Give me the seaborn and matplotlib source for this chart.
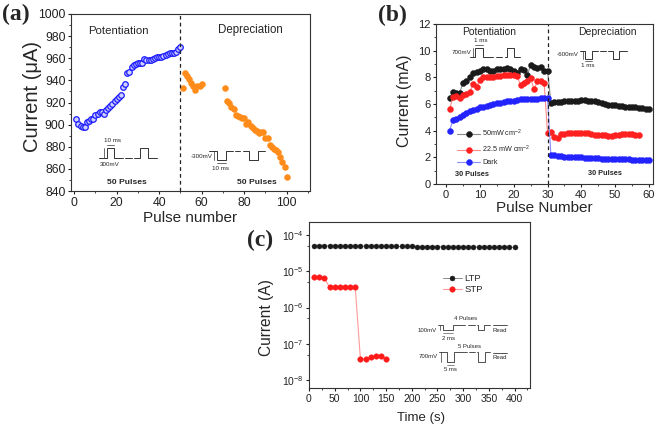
import matplotlib
matplotlib.use("Agg")
import matplotlib.pyplot as plt
import matplotlib.transforms as mtransforms
import seaborn as sns
from matplotlib.ticker import MultipleLocator, LogLocator, NullFormatter

# ---------- panel (a): current vs pulse number
pulse_pot = list(range(1, 51))
current_pot = [905, 901, 899, 898, 898, 902, 903, 905, 905, 909,
               910, 911, 911, 910, 913, 915, 917, 919, 921, 923,
               925, 927, 934, 937, 947, 948, 952, 954, 955, 956,
               956, 956, 959, 958, 958, 958, 959, 960, 961, 961,
               961, 962, 963, 964, 965, 965, 965, 966, 968, 970]
pulse_dep = list(range(51, 61)) + list(range(71, 101))
current_dep = [933, 947, 944, 941, 938, 935, 931, 935, 935, 937,
               933, 921, 920, 916, 914, 909, 908, 907, 906, 906,
               901, 902, 899, 897, 895, 894, 892, 893, 893, 888,
               888, 882, 880, 878, 877, 875, 871, 866, 862, 853]

# ---------- panel (b): three illumination conditions
pulse_b = list(range(1, 61))
i_50mw = [6.45, 6.9, 6.8, 6.85, 7.6, 7.7, 8.0, 8.35, 8.4, 8.5,
          8.65, 8.6, 8.5, 8.45, 8.6, 8.65, 8.65, 8.7, 8.6, 8.45,
          8.3, 8.65, 8.55, 8.2, 8.9, 8.8, 8.7, 8.75, 8.45, 8.5,
          6.1, 6.15, 6.15, 6.15, 6.2, 6.2, 6.2, 6.25, 6.25, 6.3,
          6.3, 6.25, 6.25, 6.2, 6.15, 6.05, 6.0, 5.95, 5.9, 5.9,
          5.85, 5.85, 5.8, 5.8, 5.75, 5.75, 5.7, 5.7, 5.65, 5.6]
i_22mw = [5.6, 6.5, 6.6, 6.45, 6.65, 6.75, 6.9, 7.5, 7.3, 7.8,
          8.0, 8.05, 8.0, 8.05, 8.1, 8.1, 8.15, 8.2, 8.2, 8.2,
          8.1, 7.4, 7.6, 7.7, 7.95, 7.1, 7.7, 7.75, 7.55, 3.8,
          3.9, 3.5, 3.45, 3.75, 3.75, 3.8, 3.85, 3.85, 3.8, 3.8,
          3.85, 3.85, 3.75, 3.7, 3.7, 3.7, 3.65, 3.6, 3.6, 3.65,
          3.7, 3.75, 3.75, 3.75, 3.75, 3.7, 3.65]
i_dark = [4.0, 4.8, 4.9, 5.05, 5.2, 5.3, 5.45, 5.55, 5.65, 5.75,
          5.8, 5.85, 5.95, 6.0, 6.05, 6.1, 6.15, 6.2, 6.25, 6.25,
          6.3, 6.35, 6.35, 6.35, 6.35, 6.4, 6.4, 6.45, 6.45, 6.45,
          2.15, 2.15, 2.1, 2.1, 2.05, 2.05, 2.0, 2.0, 2.0, 2.0,
          1.95, 1.95, 1.95, 1.95, 1.92, 1.9, 1.9, 1.9, 1.88, 1.88,
          1.85, 1.85, 1.85, 1.85, 1.82, 1.82, 1.8, 1.8, 1.8, 1.8]

# ---------- panel (c): retention
time_ltp = list(range(10, 410, 10))
i_ltp = [5.1e-5, 5.1e-5, 5.1e-5, 5.05e-5, 5.05e-5, 5.0e-5, 5.0e-5, 5.0e-5,
         5.0e-5, 4.95e-5, 4.95e-5, 4.95e-5, 4.9e-5, 4.9e-5, 4.9e-5, 4.9e-5,
         4.85e-5, 4.85e-5, 4.85e-5, 4.85e-5, 4.8e-5, 4.8e-5, 4.8e-5, 4.8e-5,
         4.8e-5, 4.75e-5, 4.75e-5, 4.75e-5, 4.75e-5, 4.7e-5, 4.7e-5, 4.7e-5,
         4.7e-5, 4.7e-5, 4.65e-5, 4.65e-5, 4.65e-5, 4.65e-5, 4.6e-5, 4.6e-5]
time_stp = list(range(10, 160, 10))
i_stp = [7.0e-6, 6.9e-6, 6.5e-6, 3.6e-6, 3.6e-6, 3.6e-6, 3.6e-6, 3.6e-6,
         3.6e-6, 3.8e-8, 3.8e-8, 4.4e-8, 4.7e-8, 4.7e-8, 3.8e-8]

sns.set_style("ticks")
plt.rcParams['font.family'] = ['Liberation Sans', 'DejaVu Sans']
plt.rcParams['mathtext.fontset'] = 'custom'
plt.rcParams['mathtext.rm'] = 'Liberation Sans'
plt.rcParams['mathtext.it'] = 'Liberation Sans:italic'
plt.rcParams['axes.edgecolor'] = '#333333'
plt.rcParams['axes.linewidth'] = 0.8
plt.rcParams['xtick.direction'] = 'out'
plt.rcParams['ytick.direction'] = 'out'

W, H = 656, 428
fig = plt.figure(figsize=(6.56, 4.28), dpi=100)

# axes boxes in pixels: left, top, right, bottom
box_a = (71, 14, 310, 191)
box_b = (436, 24, 653, 184)
box_c = (309, 222, 530, 388)


def make_axes(box):
    L, T, R, B = box
    return fig.add_axes([L / W, 1 - B / H, (R - L) / W, (B - T) / H])


def fr(box, x, y):
    L, T, R, B = box
    return (x - L) / (R - L), (B - y) / (B - T)


def draw_path(ax, box, pts, lw=0.7):
    xs, ys = zip(*[fr(box, x, y) for x, y in pts])
    ax.plot(xs, ys, color='#333333', lw=lw, transform=ax.transAxes, clip_on=False)


def put(ax, box, x, y, s, size=5, **kw):
    fx, fy = fr(box, x, y)
    ax.text(fx, fy, s, fontsize=size, transform=ax.transAxes,
            ha=kw.pop('ha', 'center'), va=kw.pop('va', 'center'), **kw)


def style_ticks(ax, size):
    ax.tick_params(which='major', length=2.5, width=0.8, pad=1.5,
                   labelsize=size, colors='#222222')
    ax.tick_params(which='minor', length=1.5, width=0.6)
    ax.tick_params(top=False, right=False)


def labels(ax, box, xlab, xpos, xsize, ylab, ypos, ysize):
    ax.set_xlabel(xlab, fontsize=xsize, va='center')
    ax.xaxis.set_label_coords(*fr(box, *xpos))
    ax.set_ylabel(ylab, fontsize=ysize, va='center')
    ax.yaxis.set_label_coords(*fr(box, *ypos))


def gloss(ax, x, y, size=1.5):
    # small highlight to mimic the shaded sphere markers
    off = mtransforms.offset_copy(ax.transData, fig=fig, x=-0.6, y=0.6, units='points')
    sns.scatterplot(x=x, y=y, ax=ax, s=size, color='white', alpha=0.75,
                    linewidth=0, transform=off, legend=False)


# ================= (a)
ax_a = make_axes(box_a)
sns.scatterplot(x=pulse_pot, y=current_pot, ax=ax_a, marker='o', s=16,
                facecolor='#d0d0ff', edgecolor='#1a1aff', linewidth=0.9)
sns.scatterplot(x=pulse_dep, y=current_dep, ax=ax_a, marker='o', s=22,
                color='#ff8c1a', edgecolor='#ff8c1a', linewidth=0)
ax_a.axvline(50, color='#222222', ls=(0, (3, 2.5)), lw=0.9)
ax_a.set_xlim(-1.5, 111)
ax_a.set_ylim(840, 1000)
ax_a.xaxis.set_major_locator(MultipleLocator(20))
ax_a.xaxis.set_minor_locator(MultipleLocator(10))
ax_a.yaxis.set_major_locator(MultipleLocator(20))
ax_a.yaxis.set_minor_locator(MultipleLocator(10))
style_ticks(ax_a, 8.8)
labels(ax_a, box_a, 'Pulse number', (190.5, 218), 11, 'Current (μA)', (32, 97), 14.5)

put(ax_a, box_a, 118, 31, 'Potentiation', size=8.2)
put(ax_a, box_a, 250, 30, 'Depreciation', size=8.3)
put(ax_a, box_a, 127, 182, '50 Pulses', size=6.1, fontweight='bold')
put(ax_a, box_a, 257, 182, '50 Pulses', size=6.1, fontweight='bold')
# positive pulse train
draw_path(ax_a, box_a, [(99, 158), (107, 158), (107, 148), (114, 148), (114, 158), (123, 158)])
draw_path(ax_a, box_a, [(125, 158), (132, 158)])
draw_path(ax_a, box_a, [(134, 158), (140, 158), (140, 148), (148, 148), (148, 158), (157, 158)])
draw_path(ax_a, box_a, [(103.5, 158), (103.5, 148)], lw=0.5)
draw_path(ax_a, box_a, [(107, 144.5), (114, 144.5)], lw=0.5)
put(ax_a, box_a, 112, 140.5, '10 ms', size=4.5)
put(ax_a, box_a, 110, 165, '300mV', size=4.5)
# negative pulse train
draw_path(ax_a, box_a, [(209, 151), (217, 151), (217, 160), (226, 160), (226, 151), (233, 151)])
draw_path(ax_a, box_a, [(235, 151), (240, 151)])
draw_path(ax_a, box_a, [(243, 151), (249, 151), (249, 160), (258, 160), (258, 151), (265, 151)])
draw_path(ax_a, box_a, [(214, 151), (214, 160)], lw=0.5)
draw_path(ax_a, box_a, [(217, 162.5), (226, 162.5)], lw=0.5)
put(ax_a, box_a, 213, 156, '-300mV', size=4.5, ha='right')
put(ax_a, box_a, 221, 169, '10 ms', size=4.5)

# ================= (b)
ax_b = make_axes(box_b)
series_b = [(i_50mw, '#1a1a1a', '#8a8a8a', '50mW cm$^{-2}$'),
            (i_22mw, '#ff2020', '#ff8a8a', '22.5 mW cm$^{-2}$'),
            (i_dark, '#2323ff', '#8c8cff', 'Dark')]
for vals, mcol, lcol, lab in series_b:
    sns.lineplot(x=pulse_b[:len(vals)], y=vals, ax=ax_b, color=lcol, lw=0.8,
                 marker='o', markersize=4.3, markerfacecolor=mcol,
                 markeredgecolor=mcol, markeredgewidth=0.3, label=lab)
    gloss(ax_b, pulse_b[:len(vals)], vals)
ax_b.axvline(30, color='#222222', ls=(0, (3, 2.5)), lw=0.9)
ax_b.set_xlim(-3, 61.2)
ax_b.set_ylim(0, 12)
ax_b.xaxis.set_major_locator(MultipleLocator(10))
ax_b.xaxis.set_minor_locator(MultipleLocator(5))
ax_b.yaxis.set_major_locator(MultipleLocator(2))
ax_b.yaxis.set_minor_locator(MultipleLocator(1))
style_ticks(ax_b, 8)
labels(ax_b, box_b, 'Pulse Number', (544.5, 208), 11, 'Current (mA)', (405, 101), 11.5)
ax_b.legend(loc='upper left', bbox_to_anchor=fr(box_b, 457, 128), frameon=False,
            fontsize=5.2, handlelength=3.2, handletextpad=0.3, labelspacing=0.6,
            borderaxespad=0, borderpad=0)

put(ax_b, box_b, 489, 32, 'Potentiation', size=7.4)
put(ax_b, box_b, 607, 32, 'Depreciation', size=7.5)
put(ax_b, box_b, 472, 174, '30 Pulses', size=5.3, fontweight='bold')
put(ax_b, box_b, 605, 173, '30 Pulses', size=5.3, fontweight='bold')
draw_path(ax_b, box_b, [(470, 57), (475, 57), (475, 47.5), (483, 47.5), (483, 57), (493, 57)])
draw_path(ax_b, box_b, [(496, 57), (502, 57)])
draw_path(ax_b, box_b, [(505, 57), (507, 57), (507, 47.5), (514, 47.5), (514, 57), (520, 57)])
draw_path(ax_b, box_b, [(473, 57), (473, 47.5)], lw=0.5)
draw_path(ax_b, box_b, [(475, 45), (483, 45)], lw=0.5)
put(ax_b, box_b, 481, 41, '1 ms', size=4.5)
put(ax_b, box_b, 471, 53, '700mV', size=4.5, ha='right')
draw_path(ax_b, box_b, [(580, 51), (585, 51), (585, 58.5), (592, 58.5), (592, 51), (598, 51)])
draw_path(ax_b, box_b, [(600, 51), (606, 51)])
draw_path(ax_b, box_b, [(608, 51), (613, 51), (613, 58.5), (619, 58.5), (619, 51), (627, 51)])
draw_path(ax_b, box_b, [(582.5, 51), (582.5, 58.5)], lw=0.5)
draw_path(ax_b, box_b, [(585, 61), (592, 61)], lw=0.5)
put(ax_b, box_b, 588, 65.5, '1 ms', size=4.5)
put(ax_b, box_b, 579, 55, '-600mV', size=4.5, ha='right')

# ================= (c)
ax_c = make_axes(box_c)
sns.lineplot(x=time_ltp, y=i_ltp, ax=ax_c, color='#8a8a8a', lw=0.7, marker='o',
             markersize=3.6, markerfacecolor='#1a1a1a', markeredgecolor='#1a1a1a',
             markeredgewidth=0.3, label='LTP')
gloss(ax_c, time_ltp, i_ltp, size=1.0)
sns.lineplot(x=time_stp, y=i_stp, ax=ax_c, color='#ff9a9a', lw=0.8, marker='o',
             markersize=4.0, markerfacecolor='#ff1a1a', markeredgecolor='#ff1a1a',
             markeredgewidth=0.3, label='STP')
gloss(ax_c, time_stp, i_stp, size=1.2)
ax_c.set_yscale('log')
ax_c.set_xlim(0, 430)
ax_c.set_ylim(6e-9, 2.3e-4)
ax_c.xaxis.set_major_locator(MultipleLocator(50))
ax_c.xaxis.set_minor_locator(MultipleLocator(25))
ax_c.yaxis.set_major_locator(LogLocator(base=10, numticks=10))
ax_c.yaxis.set_minor_locator(LogLocator(base=10, subs=[5], numticks=10))
ax_c.yaxis.set_minor_formatter(NullFormatter())
style_ticks(ax_c, 7.5)
labels(ax_c, box_c, 'Time (s)', (421, 418), 9.5, 'Current (A)', (267, 318), 11.2)
ax_c.legend(loc='upper left', bbox_to_anchor=fr(box_c, 443, 274), frameon=False,
            fontsize=6.8, handlelength=2.0, handletextpad=0.3, labelspacing=0.2,
            borderaxespad=0, borderpad=0)

put(ax_c, box_c, 466, 318, '4 Pulses', size=4.3)
put(ax_c, box_c, 437, 330, '100mV', size=4.3, ha='right')
draw_path(ax_c, box_c, [(438, 325), (443, 325), (443, 329.5), (453, 329.5), (453, 325), (465, 325)], lw=0.6)
draw_path(ax_c, box_c, [(468, 325), (475, 325)], lw=0.6)
draw_path(ax_c, box_c, [(477, 325), (478, 325), (478, 329.5), (484, 329.5), (484, 325), (490, 325)], lw=0.6)
draw_path(ax_c, box_c, [(440, 325), (440, 329.5)], lw=0.5)
draw_path(ax_c, box_c, [(443, 333), (453, 333)], lw=0.4)
put(ax_c, box_c, 449, 338, '2 ms', size=4.3)
draw_path(ax_c, box_c, [(493, 324.5), (507, 324.5)], lw=0.6)
put(ax_c, box_c, 500, 330, 'Read', size=4.3)

put(ax_c, box_c, 469, 347, '5 Pulses', size=4.3)
put(ax_c, box_c, 438, 357, '700mV', size=4.3, ha='right')
draw_path(ax_c, box_c, [(439, 352), (447, 352), (447, 362), (454, 362), (454, 352), (467, 352)], lw=0.6)
draw_path(ax_c, box_c, [(469, 352), (475, 352)], lw=0.6)
draw_path(ax_c, box_c, [(477, 352), (478, 352), (478, 362), (485, 362), (485, 352), (490, 352)], lw=0.6)
draw_path(ax_c, box_c, [(441, 352), (441, 362)], lw=0.5)
draw_path(ax_c, box_c, [(447, 365), (454, 365)], lw=0.4)
put(ax_c, box_c, 450, 369.5, '5 ms', size=4.3)
draw_path(ax_c, box_c, [(493, 353), (507, 353)], lw=0.6)
put(ax_c, box_c, 500, 357.5, 'Read', size=4.3)

# panel letters
for lab, (px, py) in [('(a)', (16, 14)), ('(b)', (392, 15)), ('(c)', (260, 240))]:
    fig.text(px / W, 1 - py / H, lab, fontsize=17, fontweight='bold',
             family='Liberation Serif', ha='center', va='center')

fig.savefig('out.png', dpi=100)
